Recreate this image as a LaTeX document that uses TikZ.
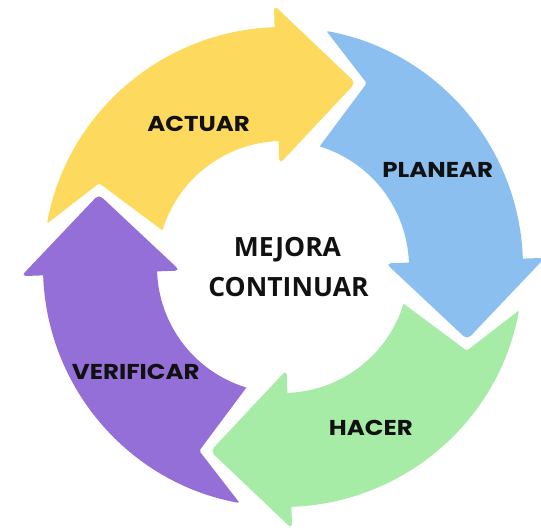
\documentclass[tikz,border=0pt]{standalone}
\usepackage{fontspec}
\newfontfamily\lblfont{Poppins}[FakeStretch=1.14]
\newfontfamily\ctrfont{Open Sans}
\definecolor{yellowA}{HTML}{FDDA5E}
\definecolor{blueA}{HTML}{8ABFF0}
\definecolor{greenA}{HTML}{A6EBA6}
\definecolor{purpleA}{HTML}{946FD8}
\definecolor{inkA}{HTML}{111111}
\newcommand{\cyclearrow}[2]{%
  \begin{scope}[rotate=#1]
    \fill[#2] (77.6:240pt) arc[start angle=77.6, end angle=0, radius=240pt]
      [rounded corners=5pt] -- (0:262pt) -- (-23.5:198pt) -- (0:103pt) [sharp corners] -- (0:126pt)
      arc[start angle=0, end angle=71.1, radius=126pt] [rounded corners=2pt] -- (63.5:202pt) -- cycle;
  \end{scope}}
\begin{document}
\begin{tikzpicture}[
  lbl/.style={font=\lblfont\bfseries\fontsize{21.5}{24}\selectfont, text=inkA, anchor=base, inner sep=0pt},
  ctr/.style={font=\ctrfont\bfseries\fontsize{26.5}{30}\selectfont, text=inkA, anchor=base, inner sep=0pt}]
\useasboundingbox (-283pt,-263pt) rectangle (258pt,267pt);
\fill[white] (-283pt,-263pt) rectangle (258pt,267pt);
\begin{scope}
\clip (-283pt,-263pt) rectangle (258pt,267pt);
\cyclearrow{92}{yellowA}
\cyclearrow{2}{blueA}
\cyclearrow{272}{greenA}
\cyclearrow{182}{purpleA}
\end{scope}
\node[lbl] (actuar) at (-84.3pt,135.3pt) {ACTUAR};
\node[lbl] (planear) at (154.7pt,89pt) {PLANEAR};
\node[lbl] (hacer) at (87.8pt,-168pt) {HACER};
\node[lbl] (verificar) at (-147.2pt,-113pt) {VERIFICAR};
\node[ctr] (mejora) at (4.5pt,10.3pt) {MEJORA};
\node[ctr] (continuar) at (5.5pt,-29.7pt) {CONTINUAR};
\end{tikzpicture}
\end{document}
